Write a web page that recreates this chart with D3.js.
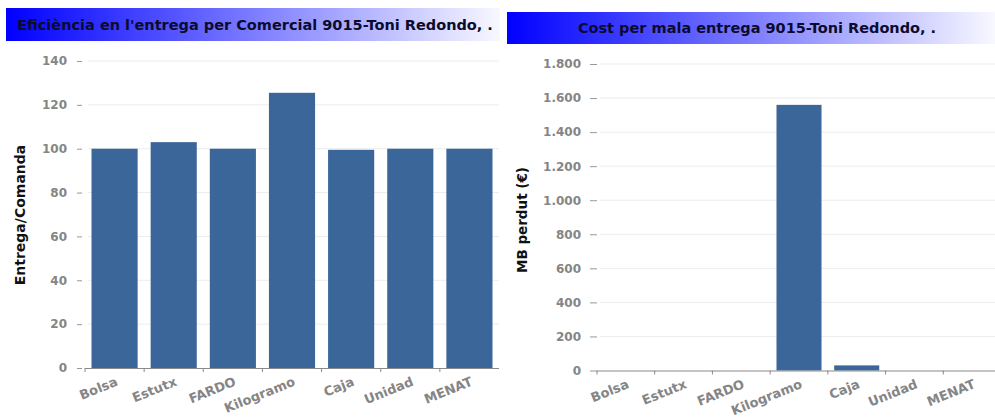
<!DOCTYPE html>
<html><head><meta charset="utf-8">
<script src="https://cdn.jsdelivr.net/npm/d3@7"></script>
<style>
html,body{margin:0;padding:0;background:#fff;}
svg{display:block;}
text{font-family:"DejaVu Sans",Verdana,sans-serif;font-weight:bold;}
</style></head>
<body>
<svg id="c" width="995" height="420"></svg>
<script>
const categories = ["Bolsa","Estutx","FARDO","Kilogramo","Caja","Unidad","MENAT"];
const efficiencyValues = [100, 103, 100, 125.5, 99.5, 100, 100];
const costValues = [0, 0, 0, 1560, 30, 0, 0];
const efficiencyTicks = [0,20,40,60,80,100,120,140];
const costTicks = [0,200,400,600,800,1000,1200,1400,1600,1800];
const titleLeft = "Eficiència en l'entrega per Comercial 9015-Toni Redondo, .";
const titleRight = "Cost per mala entrega 9015-Toni Redondo, .";
const yLabelLeft = "Entrega/Comanda";
const yLabelRight = "MB perdut (€)";

const svg = d3.select("#c");
const defs = svg.append("defs");
const grad = defs.append("linearGradient").attr("id","tg").attr("x1","0%").attr("x2","100%");
grad.append("stop").attr("offset","0%").attr("stop-color","#0000ff");
grad.append("stop").attr("offset","100%").attr("stop-color","#f8f8ff");

const loc = d3.formatLocale({decimal:",", thousands:".", grouping:[3], currency:["","€"]});
const fmt = loc.format(",d");

function chart(o){
  const g = svg.append("g");
  // title banner
  g.append("rect").attr("x",o.bx).attr("y",o.by).attr("width",o.bw).attr("height",o.bh).attr("fill","url(#tg)");
  g.append("text").attr("x",o.tx).attr("y",o.ty).attr("text-anchor","middle")
    .attr("font-size",14.5).attr("fill","#0b0b2e").text(o.title);

  const y = d3.scaleLinear().domain(o.ydom).range([o.y0,o.y1]);
  const x = d3.scaleBand().domain(categories).range([o.x0,o.x1]).paddingInner(0.22).paddingOuter(0.11);

  // gridlines
  g.append("g").selectAll("line").data(o.ticks.filter(t=>t>0)).join("line")
    .attr("x1",o.gx0).attr("x2",o.x1).attr("y1",d=>y(d)).attr("y2",d=>y(d))
    .attr("stroke","#ececec").attr("stroke-width",1);

  // y axis
  const ya = g.append("g").attr("transform",`translate(${o.ax},0)`)
    .call(d3.axisLeft(y).tickValues(o.ticks).tickFormat(fmt).tickSize(o.ts).tickPadding(o.tp));
  ya.select(".domain").remove();
  ya.selectAll(".tick line").attr("stroke","#999");
  ya.selectAll(".tick text").attr("fill","#858585").attr("font-size",12)
    .style("font-family","'DejaVu Sans',Verdana,sans-serif").style("font-weight","bold");

  // bars
  g.append("g").selectAll("rect").data(o.values).join("rect")
    .attr("x",(d,i)=>x(categories[i])).attr("width",x.bandwidth())
    .attr("y",d=>y(d)).attr("height",d=>y(0)-y(d)).attr("fill","#3b6699");

  // bottom axis line
  g.append("line").attr("x1",o.x0).attr("x2",o.x1).attr("y1",y(0)+0.5).attr("y2",y(0)+0.5)
    .attr("stroke","#8a8a8a").attr("stroke-width",1.2);
  const step = x.step();
  g.append("g").selectAll("line").data(categories).join("line")
    .attr("x1",d=>x(d)-step*0.11).attr("x2",d=>x(d)-step*0.11)
    .attr("y1",y(0)).attr("y2",y(0)+4).attr("stroke","#8a8a8a");
  g.append("g").selectAll("text").data(categories).join("text")
    .attr("transform",d=>`translate(${x(d)+x.bandwidth()/2+4},${y(0)+17}) rotate(-22)`)
    .attr("text-anchor","end").attr("font-size",13).attr("fill","#858585").text(d=>d);

  // y label
  g.append("text").attr("transform",`translate(${o.lx},${o.ly}) rotate(-90)`)
    .attr("text-anchor","middle").attr("font-size",o.lfs).attr("fill","#111").text(o.ylabel);
}

chart({bx:6,by:8,bw:494,bh:33,tx:255,ty:30,title:titleLeft,
  ydom:[0,140],y0:368,y1:61,x0:85,x1:499,gx0:88,ax:82,ts:5,tp:10,
  ticks:efficiencyTicks,values:efficiencyValues,lx:25,ly:215,lfs:14,ylabel:yLabelLeft});
chart({bx:507,by:12,bw:488,bh:32,tx:757,ty:33,title:titleRight,
  ydom:[0,1800],y0:370.5,y1:64,x0:597,x1:1001,gx0:600,ax:597,ts:7,tp:9,
  ticks:costTicks,values:costValues,lx:527,ly:220,lfs:13.5,ylabel:yLabelRight});
</script>
</body></html>
